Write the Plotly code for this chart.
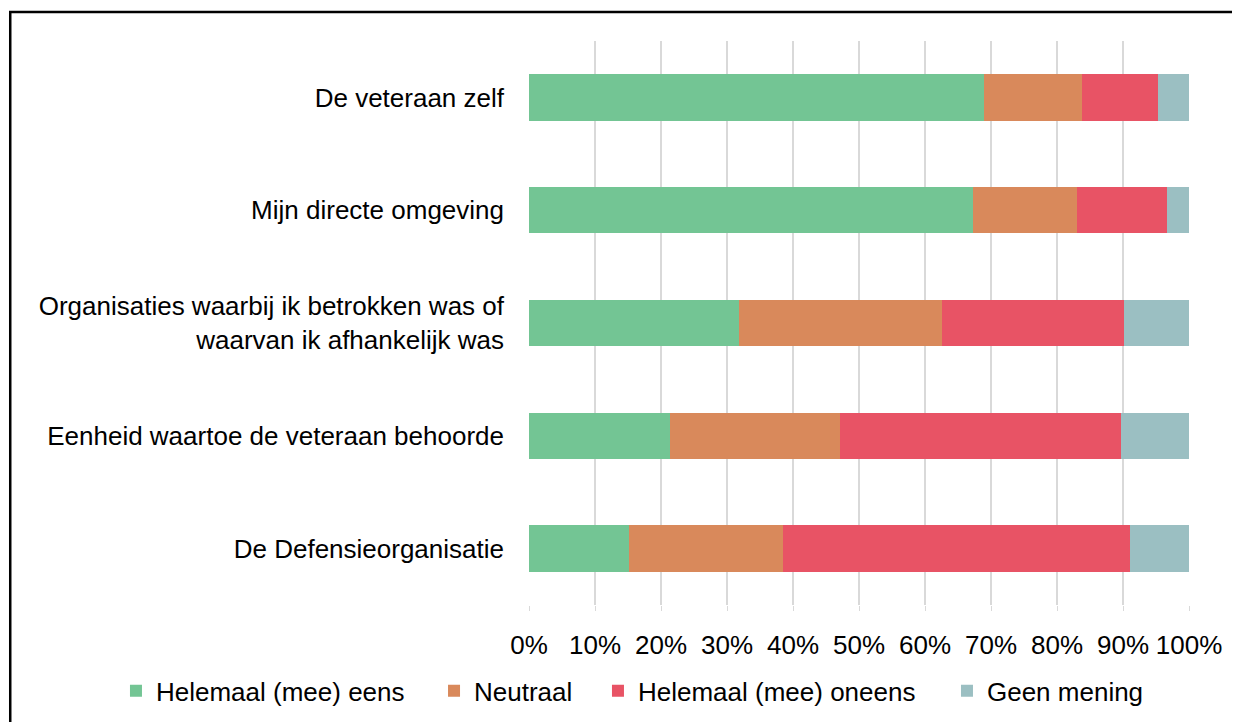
import plotly.graph_objects as go

categorieen = [
    'De veteraan zelf',
    'Mijn directe omgeving',
    'Organisaties waarbij ik betrokken was of<br>waarvan ik afhankelijk was',
    'Eenheid waartoe de veteraan behoorde',
    'De Defensieorganisatie',
]

eens = [68.9, 67.3, 31.8, 21.4, 15.1]
neutraal = [14.9, 15.7, 30.7, 25.7, 23.4]
oneens = [11.5, 13.6, 27.7, 42.6, 52.5]
geen_mening = [4.7, 3.4, 9.8, 10.3, 9.0]

reeksen = [
    ('Helemaal (mee) eens', eens, '#73C594'),
    ('Neutraal', neutraal, '#D9895B'),
    ('Helemaal (mee) oneens', oneens, '#E85365'),
    ('Geen mening', geen_mening, '#9BBFC2'),
]

# elke legenda-regel apart, zodat de tussenruimte klopt
legenda_ids = ['legend', 'legend2', 'legend3', 'legend4']
legenda_x = [-0.6258, -0.1439, 0.1045, 0.6333]

fig = go.Figure()

for (naam, waarden, kleur), lid in zip(reeksen, legenda_ids):
    fig.add_trace(go.Bar(
        y=categorieen,
        x=waarden,
        name=naam,
        orientation='h',
        marker=dict(color=kleur, line=dict(width=0)),
        width=0.41,
        legend=lid,
    ))

legenda_stijl = dict(
    orientation='h',
    xanchor='left',
    y=-0.152, yanchor='middle',
    font=dict(size=26),
    itemwidth=30,
    bgcolor='rgba(0,0,0,0)',
)

# plotgebied: l=521, w=660, t=33, h=564
fig.update_layout(
    barmode='stack',
    width=1240,
    height=722,
    margin=dict(t=33, b=125, l=521, r=59),
    paper_bgcolor='white',
    plot_bgcolor='white',
    font=dict(family='Liberation Sans, Arial, sans-serif', size=26, color='#000000'),
    showlegend=True,
    legend=dict(x=legenda_x[0], **legenda_stijl),
    legend2=dict(x=legenda_x[1], **legenda_stijl),
    legend3=dict(x=legenda_x[2], **legenda_stijl),
    legend4=dict(x=legenda_x[3], **legenda_stijl),
    xaxis=dict(
        range=[0, 100],
        dtick=10,
        ticksuffix='%',
        showgrid=True,
        gridcolor='#D9D9D9',
        gridwidth=1.5,
        zeroline=False,
        showline=False,
        ticks='outside',
        ticklen=5,
        tickcolor='#D9D9D9',
        ticklabelstandoff=12,
    ),
    yaxis=dict(
        autorange='reversed',
        showgrid=False,
        ticks='',
        ticklabelstandoff=24,
        showline=False,
    ),
    shapes=[dict(
        type='rect', xref='paper', yref='paper',
        x0=-0.786, x1=1.2,
        y0=-0.3, y1=1.0514,
        line=dict(color='black', width=2.5),
        fillcolor='rgba(0,0,0,0)',
    )],
)

fig.write_html("out.html")
